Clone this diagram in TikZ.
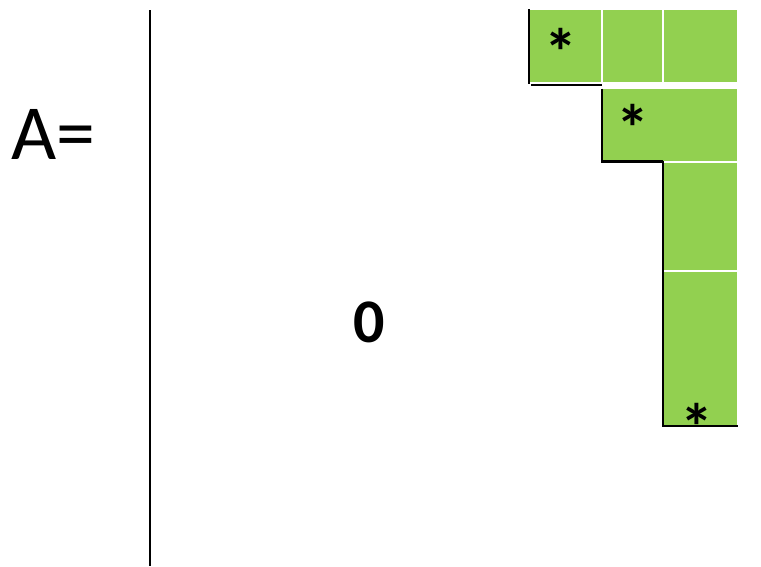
\documentclass[tikz,border=0pt]{standalone}
\usepackage{fontspec}
\setmainfont{Carlito}
\usetikzlibrary{positioning}
\definecolor{blockgreen}{RGB}{146,208,80}
\tikzset{
  cell/.style={draw=white,line width=2pt,fill=blockgreen,inner sep=0pt,outer sep=0pt},
  edge/.style={line width=2.6pt,black},
  rule/.style={line width=1.6pt,black},
  star/.style={font=\fontsize{66}{66}\selectfont\bfseries,inner sep=0pt},
  lbl/.style={inner sep=0pt},
}
\begin{document}
\begin{tikzpicture}[x=1pt,y=-1pt]
    \useasboundingbox (0,0) rectangle (761,566);
    % ---- left: the name of the matrix and its rule ----
    \node[lbl,font=\fontsize{78}{78}\selectfont] (name) at (53,134) {A=};
    \coordinate (top) at (150,10);
    \coordinate (bot) at (150,566);
    \draw[rule] (top) -- (bot);
    \node[lbl,font=\fontsize{62}{62}\selectfont\bfseries] (zero) at (369,322) {0};
    % ---- right: the green blocks ----
    \node[cell,minimum width=74pt,minimum height=74pt] (c11) at (565,46) {};
    \node[cell,minimum width=61pt,minimum height=74pt] (c12) at (632.5,46) {};
    \node[cell,minimum width=75pt,minimum height=74pt] (c13) at (700.5,46) {};
    \node[cell,minimum width=136pt,minimum height=75pt] (r2) at (670,125) {};
    \node[cell,minimum width=75pt,minimum height=110pt] (c31) at (700.5,216.5) {};
    \node[cell,minimum width=75pt,minimum height=155pt] (c32) at (700.5,348.5) {};
    % staircase edges
    \draw[edge] ([xshift=1pt]c11.north west) -- ([xshift=1pt,yshift=-1pt]c11.south west);
    \draw[edge] ([xshift=3pt,yshift=-2pt]c11.south west) -- ([yshift=-2pt]c11.south east);
    \draw[edge] ([yshift=-1pt]r2.north west) |- (c31.north west);
    \draw[edge] ([yshift=1pt]c31.north west) |- (c32.south east);
    % pivots
    \node[star] (s1) at (561,52) {*};
    \node[star] (s2) at (633,128) {*};
    \node[star] (s3) at (697,427) {*};
\end{tikzpicture}
\end{document}
